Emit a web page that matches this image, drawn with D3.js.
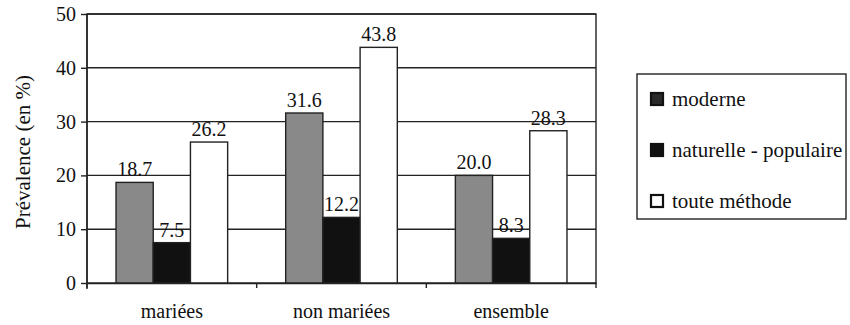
<!DOCTYPE html>
<html><head><meta charset="utf-8">
<script src="https://cdn.jsdelivr.net/npm/d3@7/dist/d3.min.js"></script>
<style>body{margin:0;background:#fff}svg{display:block}svg text{font-family:"Liberation Serif","DejaVu Serif",serif !important;fill:#111}</style>
</head><body>
<svg id="chart" width="850" height="325"></svg>
<script>
const categories = ["mariées", "non mariées", "ensemble"];
const seriesNames = ["moderne", "naturelle - populaire", "toute méthode"];
const moderne = [18.7, 31.6, 20.0];
const naturelle = [7.5, 12.2, 8.3];
const touteMethode = [26.2, 43.8, 28.3];
const yTicks = [0, 10, 20, 30, 40, 50];
const yLabel = "Prévalence (en %)";

const seriesValues = [moderne, naturelle, touteMethode];
const colors = ["#898989", "#111111", "#ffffff"];
const FONT = '"Liberation Serif","DejaVu Serif",serif';

const svg = d3.select("#chart");
const m = {left: 87, right: 596, top: 14, bottom: 283};

const x = d3.scaleBand().domain(categories).range([m.left, m.right]).paddingInner(0).paddingOuter(0);
const xs = d3.scaleBand().domain(d3.range(3)).range([0, x.bandwidth()]).paddingInner(0).paddingOuter(0.78);
const y = d3.scaleLinear().domain([0, 50]).range([m.bottom, m.top]);

// frame
svg.append("rect").attr("x", m.left).attr("y", m.top).attr("width", m.right - m.left).attr("height", m.bottom - m.top)
  .attr("fill", "#fff").attr("stroke", "#222").attr("stroke-width", 1.4);

// gridlines
svg.append("g").selectAll("line").data(yTicks.filter(d => d > 0)).join("line")
  .attr("x1", m.left).attr("x2", m.right).attr("y1", d => y(d)).attr("y2", d => y(d))
  .attr("stroke", "#222").attr("stroke-width", 1.4);

// bars
const g = svg.append("g");
categories.forEach((c, ci) => {
  seriesValues.forEach((vals, si) => {
    g.append("rect")
      .attr("x", x(c) + xs(si)).attr("y", y(vals[ci]))
      .attr("width", xs.bandwidth()).attr("height", y(0) - y(vals[ci]))
      .attr("fill", colors[si]).attr("stroke", "#222").attr("stroke-width", 1.4);
    g.append("text")
      .attr("x", x(c) + xs(si) + xs.bandwidth() / 2).attr("y", y(vals[ci]) - 6)
      .attr("text-anchor", "middle").attr("font-size", 20).attr("font-family", FONT)
      .text(vals[ci].toFixed(1));
  });
});

// y axis
const yAxis = svg.append("g").attr("transform", `translate(${m.left},0)`)
  .call(d3.axisLeft(y).tickValues(yTicks).tickSize(6).tickPadding(5).tickFormat(d3.format("d")));
yAxis.attr("font-family", FONT);
yAxis.select(".domain").attr("stroke", "#222").attr("stroke-width", 1.4).attr("d", `M0,${m.top}V${m.bottom + 6}`);
yAxis.selectAll(".tick line").attr("stroke", "#222").attr("stroke-width", 1.4);
yAxis.selectAll("text").attr("font-size", 20).attr("font-family", FONT).attr("fill", "#111");

// x axis
const xAxis = svg.append("g").attr("transform", `translate(0,${m.bottom})`)
  .call(d3.axisBottom(x).tickSize(0).tickPadding(21));
xAxis.attr("font-family", FONT);
xAxis.select(".domain").attr("stroke", "#222").attr("stroke-width", 1.4);
xAxis.selectAll("text").attr("font-size", 20).attr("font-family", FONT).attr("fill", "#111");
// boundary ticks between categories
svg.append("g").selectAll("line").data(categories.map(c => x(c)).concat([m.right])).join("line")
  .attr("x1", d => d).attr("x2", d => d).attr("y1", m.bottom).attr("y2", m.bottom + 5)
  .attr("stroke", "#222").attr("stroke-width", 1.4);

// y label
svg.append("text").attr("transform", `translate(30,152) rotate(-90)`)
  .attr("text-anchor", "middle").attr("font-size", 21).attr("font-family", FONT).text(yLabel);

// legend
const lg = svg.append("g");
lg.append("rect").attr("x", 637).attr("y", 74).attr("width", 209).attr("height", 145)
  .attr("fill", "#fff").attr("stroke", "#222").attr("stroke-width", 1.4);
const legColors = ["#2a2a2a", "#111", "#fff"];
seriesNames.forEach((n, i) => {
  const yy = 106 + i * 51;
  lg.append("rect").attr("x", 651).attr("y", yy - 13).attr("width", 12).attr("height", 12)
    .attr("fill", legColors[i]).attr("stroke", "#111").attr("stroke-width", 2.2);
  lg.append("text").attr("x", 672).attr("y", yy).attr("font-size", 21).attr("font-family", FONT).text(n);
});
</script>
</body></html>
